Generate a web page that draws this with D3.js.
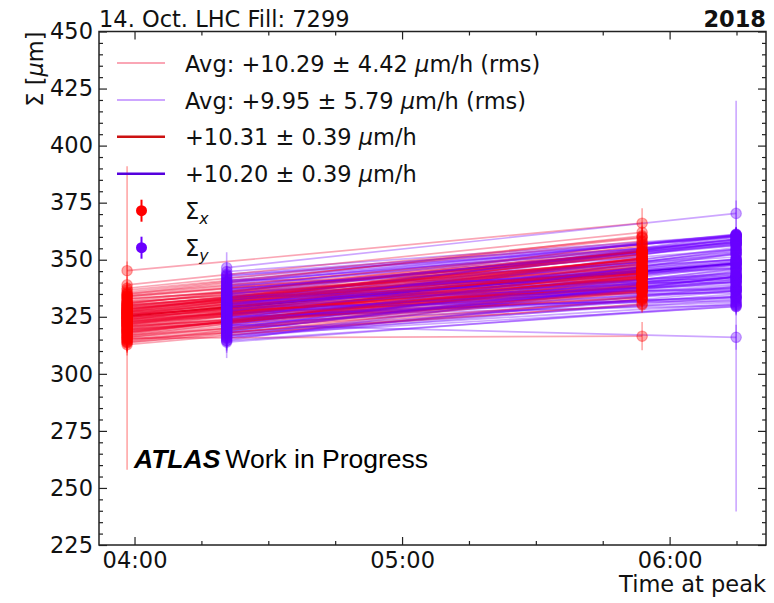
<!DOCTYPE html>
<html><head><meta charset="utf-8">
<script src="https://cdn.jsdelivr.net/npm/d3@7"></script>
<style>
body{margin:0;background:#fff}
svg{display:block}
text{font-family:'DejaVu Sans',sans-serif}
</style>
</head><body>
<svg id="chart" width="774" height="603"></svg>
<script>
// ---------------- data ----------------
const titleLeft = "14. Oct. LHC Fill: 7299";
const titleRight = "2018";
const xTickLabels = ["04:00", "05:00", "06:00"];
const yTicks = [225, 250, 275, 300, 325, 350, 375, 400, 425, 450];
const scanTimesX = ["03:58:20", "05:53:50"];   // Sigma_x scans
const scanTimesY = ["04:20:40", "06:14:55"];   // Sigma_y scans

const sigmaX_start = [325.1,318.4,331.2,322.7,327.9,314.6,329.3,320.8,334.5,323.6,
 316.9,328.4,321.5,326.7,312.8,330.6,324.2,319.3,335.8,327.0,
 322.1,317.5,332.9,325.8,313.9,329.9,321.0,326.3,318.9,336.7,
 324.7,315.8,330.1,323.0,327.4,319.8,333.6,322.4,328.8,316.2,
 325.5,320.3,331.7,326.0,314.1,329.0,323.3,318.1,334.9,327.6,
 321.8,316.6,330.9,324.9,319.0,328.1,322.9,337.5,315.2,326.5,
 320.1,327.2,323.9,331.8,317.7,325.0,329.6,321.3,334.1,326.8,
 319.6,324.0,330.4,316.0,327.9,322.6,333.0,318.5,325.9,329.2,
 321.9,326.1,313.5,331.1,323.5,328.6,317.1,335.2,324.4,320.6,
 327.3,332.4,319.4,325.3,322.0,330.0,315.0,326.9,323.1,328.3,
 321.1,333.9,318.2,324.8,339.0,
 345.2,315.6,324.5];
const sigmaX_end = [346.4,342.4,348.8,336.6,353.5,332.8,352.1,333.3,355.6,351.0,
 332.2,348.1,350.7,342.8,332.7,356.9,335.2,341.7,359.6,345.5,
 342.7,345.5,347.7,350.5,330.7,350.1,344.1,335.7,337.9,358.2,
 350.6,336.8,346.6,341.9,357.6,334.0,353.0,344.4,345.9,340.7,
 346.3,346.9,344.6,349.4,339.2,347.0,338.9,339.9,360.5,347.6,
 339.2,343.7,353.5,338.2,338.6,352.3,344.1,359.9,330.2,345.2,
 339.3,350.7,339.7,353.7,344.1,337.7,350.2,345.4,351.4,349.6,
 348.5,342.4,345.0,337.1,353.6,342.5,346.4,341.5,356.3,345.4,
 342.8,337.9,336.0,349.9,350.6,343.9,341.7,354.6,346.0,338.5,
 352.5,352.5,336.1,353.6,344.2,344.1,336.4,350.6,341.7,354.3,
 333.5,353.6,343.1,341.8,362.0,
 366.0,316.5,343.8];
const errX_start = [3.1,2.8,3.4,2.9,3.6,3.2,2.7,3.0,3.5,2.9,
 3.3,3.1,2.8,3.7,4.8,3.0,2.9,3.4,3.2,3.1,
 2.8,3.5,3.0,3.3,4.1,2.9,3.2,3.0,3.4,3.6,
 2.9,3.8,3.1,3.0,3.3,2.8,3.2,3.5,2.9,3.4,
 3.0,3.1,3.3,2.8,4.2,3.0,3.2,3.4,3.1,2.9,
 3.3,3.6,3.0,3.2,2.8,3.1,3.4,3.0,3.5,3.2,
 3.2,2.9,3.1,3.4,3.0,2.8,3.3,3.1,3.5,2.9,
 3.2,3.0,3.4,3.6,3.1,2.9,3.3,3.0,3.2,3.1,
 2.8,3.4,4.4,3.0,3.2,3.1,3.5,3.3,2.9,3.0,
 3.2,3.4,3.1,2.9,3.3,3.0,4.0,3.1,3.2,3.0,
 3.3,3.5,3.1,2.9,3.6,
 4.0,5.8,66.5];
const errX_end = [3.4,3.0,3.2,3.1,3.5,3.3,2.9,3.2,3.6,3.0,
 3.1,3.3,2.9,3.4,3.2,3.8,3.0,3.1,4.2,3.2,
 3.0,3.4,3.1,3.3,3.5,3.0,3.2,3.1,3.3,3.9,
 3.0,3.4,3.2,3.1,3.6,2.9,3.3,3.2,3.0,3.4,
 3.1,3.2,3.4,3.0,3.3,3.1,3.3,3.2,4.5,3.0,
 3.2,3.5,3.1,3.3,3.0,3.2,3.3,4.1,3.4,3.1,
 3.1,3.3,3.0,3.4,3.2,3.1,3.5,2.9,3.3,3.2,
 3.0,3.4,3.1,3.2,3.5,3.0,3.3,3.1,3.8,3.2,
 3.1,3.0,3.4,3.2,3.3,3.1,3.0,3.6,3.2,3.1,
 3.4,3.3,3.0,3.5,3.1,3.2,3.3,3.1,3.0,3.4,
 3.2,3.5,3.1,3.0,4.6,
 6.5,6.2,3.5];

const sigmaY_start = [329.4,321.7,336.2,326.5,332.8,317.3,340.1,324.0,330.7,315.4,
 334.9,327.8,322.6,338.5,319.9,331.3,325.2,343.6,328.6,316.8,
 335.7,323.4,330.0,320.5,341.9,326.9,333.5,318.6,329.8,337.4,
 324.8,313.9,332.1,327.3,339.3,321.2,335.0,325.9,344.8,330.5,
 319.2,328.2,334.2,323.0,316.1,337.9,326.1,331.9,322.3,342.7,
 329.1,318.0,333.0,324.4,340.8,327.0,320.9,336.6,314.7,331.0,
 327.6,334.4,320.2,338.9,325.6,331.6,317.9,336.0,323.7,329.9,
 341.3,321.9,333.8,326.3,318.8,339.9,328.9,324.2,335.4,330.8,
 316.5,327.1,343.1,322.8,332.6,325.1,337.1,319.6,330.3,334.7,
 323.2,340.3,328.0,315.8,331.4,326.6,338.1,321.0,333.3,329.3,
 324.7,336.9,318.3,332.3,327.9,
 346.5,321.6,314.5];
const sigmaY_end = [348.0,347.9,357.6,336.3,356.9,330.8,360.4,354.5,337.6,338.2,
 350.1,360.8,340.3,349.9,347.5,350.3,330.0,359.8,353.9,329.4,
 357.8,358.5,344.0,341.2,360.2,355.3,342.1,342.5,361.0,351.2,
 343.7,330.3,359.0,338.0,361.0,345.8,352.2,333.6,360.7,353.4,
 349.0,347.8,346.3,348.4,336.3,361.2,340.7,359.2,331.4,360.7,
 350.1,334.9,357.8,336.3,360.3,353.0,336.6,357.1,344.8,348.6,
 338.5,336.8,346.1,356.5,343.0,341.3,332.5,356.2,340.2,354.7,
 339.8,352.5,335.4,337.6,342.5,358.4,341.6,333.1,346.5,346.2,
 342.6,360.1,357.5,342.6,343.2,333.6,354.4,342.5,342.5,358.8,
 337.2,357.2,349.3,333.8,339.1,340.3,358.9,352.9,348.4,331.9,
 334.0,356.4,345.1,349.4,344.2,
 370.3,316.0,329.7];
const errY_start = [3.2,3.5,3.0,3.3,3.1,3.6,3.4,3.2,3.0,5.5,
 3.3,3.1,3.4,3.2,3.5,3.0,3.3,3.6,3.1,4.8,
 3.2,3.4,3.0,3.5,3.3,3.1,3.2,3.6,3.0,3.4,
 3.3,7.0,3.1,3.2,3.5,3.4,3.0,3.3,3.8,3.1,
 3.6,3.2,3.0,3.4,5.0,3.3,3.1,3.2,3.5,3.6,
 3.0,3.7,3.2,3.3,3.4,3.1,3.5,3.2,5.5,3.0,
 3.1,3.3,3.4,3.0,3.2,3.5,3.6,3.1,3.3,3.0,
 3.4,3.2,3.1,3.3,3.5,3.0,3.2,3.4,3.1,3.3,
 4.6,3.2,3.9,3.1,3.0,3.3,3.2,3.5,3.1,3.4,
 3.0,3.3,3.2,4.2,3.1,3.4,3.0,3.2,3.3,3.1,
 3.5,3.2,3.6,3.0,3.3,
 6.8,4.0,4.0];
const errY_end = [3.3,3.1,3.5,3.2,3.4,3.6,3.3,3.0,3.2,3.4,
 3.1,3.5,3.2,3.0,3.3,3.4,4.0,3.6,3.1,3.8,
 3.2,3.4,3.0,3.3,3.5,3.1,3.2,3.4,3.6,3.0,
 3.3,3.9,3.2,3.1,3.5,3.4,3.0,3.2,3.3,3.1,
 3.4,3.2,3.0,3.3,3.5,3.2,3.1,3.4,3.6,3.3,
 3.0,3.5,3.2,3.4,3.1,3.3,3.5,3.0,3.2,3.4,
 3.2,3.0,3.3,3.1,3.4,3.2,3.5,3.1,3.3,3.0,
 3.2,3.4,3.1,3.3,3.0,3.5,3.2,3.6,3.1,3.3,
 3.4,3.2,3.0,3.3,3.1,3.4,3.2,3.0,3.3,3.5,
 3.1,3.2,3.4,3.6,3.0,3.3,3.1,3.2,3.4,3.0,
 3.7,3.2,3.1,3.3,3.2,
 5.6,5.5,90.0];

const fitX = [325.3, 345.2];
const fitY = [329.0, 348.4];

const legendLabels = [
  ["Avg: +10.29 ± 4.42 ", "μ", "m/h (rms)"],
  ["Avg: +9.95 ± 5.79 ", "μ", "m/h (rms)"],
  ["+10.31 ± 0.39 ", "μ", "m/h"],
  ["+10.20 ± 0.39 ", "μ", "m/h"]
];

// ---------------- styles ----------------
const C = {
  lineX: "#f0002c", lineY: "#7000ff",
  markX: "#ff0000", markY: "#6a00ff",
  fitX: "#cc1111", fitY: "#5500dd"
};
const FS = 22.5;

// ---------------- scales ----------------
const day = (s) => { const p = s.split(":").map(Number); return new Date(2018, 9, 14, p[0], p[1], p[2] || 0); };
const L = 99, R = 766, T = 31.5, B = 545;
const x = d3.scaleTime().domain([day("03:52:02"), day("06:21:37")]).range([L, R]);
const y = d3.scaleLinear().domain([225, 450]).range([B, T]);

const svg = d3.select("#chart");
const plot = svg.append("g");
plot.append("defs").append("clipPath").attr("id", "clip")
  .append("rect").attr("x", L).attr("y", T).attr("width", R - L).attr("height", B - T);
const data = plot.append("g").attr("clip-path", "url(#clip)");

const tx = scanTimesX.map(day), ty = scanTimesY.map(day);

// fit lines (underneath)
data.append("line").attr("x1", x(tx[0])).attr("x2", x(tx[1]))
  .attr("y1", y(fitX[0])).attr("y2", y(fitX[1]))
  .attr("stroke", C.fitX).attr("stroke-width", 2);
data.append("line").attr("x1", x(ty[0])).attr("x2", x(ty[1]))
  .attr("y1", y(fitY[0])).attr("y2", y(fitY[1]))
  .attr("stroke", C.fitY).attr("stroke-width", 2);

// per-bunch lines, interleaved
const LA = 0.35;
sigmaX_start.forEach((v, i) => {
  data.append("line").attr("x1", x(tx[0])).attr("x2", x(tx[1]))
    .attr("y1", y(v)).attr("y2", y(sigmaX_end[i]))
    .attr("stroke", C.lineX).attr("stroke-opacity", LA).attr("stroke-width", 1.7);
  data.append("line").attr("x1", x(ty[0])).attr("x2", x(ty[1]))
    .attr("y1", y(sigmaY_start[i])).attr("y2", y(sigmaY_end[i]))
    .attr("stroke", C.lineY).attr("stroke-opacity", LA).attr("stroke-width", 1.7);
});

// markers with error bars
function points(t, vals, errs, col) {
  vals.forEach((v, i) => {
    data.append("line").attr("x1", x(t)).attr("x2", x(t))
      .attr("y1", y(v - errs[i])).attr("y2", y(v + errs[i]))
      .attr("stroke", col).attr("stroke-opacity", LA).attr("stroke-width", 1.6);
    data.append("circle").attr("cx", x(t)).attr("cy", y(v)).attr("r", 5.2)
      .attr("fill", col).attr("fill-opacity", LA)
      .attr("stroke", col).attr("stroke-opacity", LA).attr("stroke-width", 1.2);
  });
}
points(tx[0], sigmaX_start, errX_start, C.markX);
points(tx[1], sigmaX_end, errX_end, C.markX);
points(ty[0], sigmaY_start, errY_start, C.markY);
points(ty[1], sigmaY_end, errY_end, C.markY);

// ---------------- axes ----------------
const xMajor = xTickLabels.map(s => day(s + ":00"));
const xMinor = d3.timeMinute.every(15).range(x.domain()[0], x.domain()[1]).filter(d => d.getMinutes() !== 0);
const yMinor = d3.range(230, 450, 5).filter(v => v % 25 !== 0);
const MAJ = 8, MIN = 4;

function styleAxis(g) {
  g.select(".domain").remove();
  g.selectAll("line").attr("stroke", "#222").attr("stroke-width", 1.2);
  g.selectAll("text").attr("font-family", "'DejaVu Sans',sans-serif").attr("font-size", FS).attr("fill", "#111");
  g.attr("font-size", null).attr("font-family", null);
}
const fmt = d3.timeFormat("%H:%M");
plot.append("g").attr("transform", `translate(0,${B})`)
  .call(d3.axisBottom(x).tickValues(xMajor).tickFormat(fmt).tickSizeInner(-MAJ).tickSizeOuter(0).tickPadding(7)).call(styleAxis);
plot.append("g").attr("transform", `translate(0,${B})`)
  .call(d3.axisBottom(x).tickValues(xMinor).tickFormat("").tickSizeInner(-MIN).tickSizeOuter(0)).call(styleAxis);
plot.append("g").attr("transform", `translate(0,${T})`)
  .call(d3.axisTop(x).tickValues(xMajor).tickFormat("").tickSizeInner(-MAJ).tickSizeOuter(0)).call(styleAxis);
plot.append("g").attr("transform", `translate(0,${T})`)
  .call(d3.axisTop(x).tickValues(xMinor).tickFormat("").tickSizeInner(-MIN).tickSizeOuter(0)).call(styleAxis);
plot.append("g").attr("transform", `translate(${L},0)`)
  .call(d3.axisLeft(y).tickValues(yTicks).tickFormat(d3.format("d")).tickSizeInner(-MAJ).tickSizeOuter(0).tickPadding(6)).call(styleAxis);
plot.append("g").attr("transform", `translate(${L},0)`)
  .call(d3.axisLeft(y).tickValues(yMinor).tickFormat("").tickSizeInner(-MIN).tickSizeOuter(0)).call(styleAxis);
plot.append("g").attr("transform", `translate(${R},0)`)
  .call(d3.axisRight(y).tickValues(yTicks).tickFormat("").tickSizeInner(-MAJ).tickSizeOuter(0)).call(styleAxis);
plot.append("g").attr("transform", `translate(${R},0)`)
  .call(d3.axisRight(y).tickValues(yMinor).tickFormat("").tickSizeInner(-MIN).tickSizeOuter(0)).call(styleAxis);

plot.append("rect").attr("x", L).attr("y", T).attr("width", R - L).attr("height", B - T)
  .attr("fill", "none").attr("stroke", "#222").attr("stroke-width", 1.5);

// ---------------- texts ----------------
svg.append("text").attr("x", L).attr("y", 26.5).attr("font-size", FS).attr("fill", "#111").text(titleLeft);
svg.append("text").attr("x", R).attr("y", 26.5).attr("font-size", FS).attr("font-weight", "bold")
  .attr("text-anchor", "end").attr("fill", "#111").text(titleRight);
svg.append("text").attr("x", R).attr("y", 592).attr("font-size", FS).attr("text-anchor", "end")
  .attr("fill", "#111").text("Time at peak");
const yl = svg.append("text").attr("transform", `translate(43,${T}) rotate(-90)`)
  .attr("text-anchor", "end").attr("font-size", FS).attr("fill", "#111");
yl.append("tspan").text("Σ [");
yl.append("tspan").attr("font-style", "italic").text("μ");
yl.append("tspan").text("m]");

// ATLAS label
const atl = svg.append("text").attr("x", 134).attr("y", 468)
  .attr("font-family", "'Liberation Sans',Arial,sans-serif").attr("font-size", 26.5).attr("fill", "#000");
atl.append("tspan").attr("font-weight", "bold").attr("font-style", "italic")
  .attr("font-family", "'Liberation Sans',Arial,sans-serif").text("ATLAS");
atl.append("tspan").attr("font-family", "'Liberation Sans',Arial,sans-serif").attr("dx", 5).text("Work in Progress");

// ---------------- legend ----------------
const leg = svg.append("g");
const rowY = [63, 100, 136.8, 173.8, 210.7, 247.7];
const legLine = [
  {c: C.lineX, o: LA, w: 2}, {c: C.lineY, o: LA, w: 2},
  {c: C.fitX, o: 1, w: 2.5}, {c: C.fitY, o: 1, w: 2.5}
];
legLine.forEach((d, i) => {
  leg.append("line").attr("x1", 117).attr("x2", 165).attr("y1", rowY[i]).attr("y2", rowY[i])
    .attr("stroke", d.c).attr("stroke-opacity", d.o).attr("stroke-width", d.w);
  const t = leg.append("text").attr("x", 185).attr("y", rowY[i] + 8.5).attr("font-size", FS).attr("fill", "#111");
  t.append("tspan").text(legendLabels[i][0]);
  t.append("tspan").attr("font-style", "italic").text(legendLabels[i][1]);
  t.append("tspan").text(legendLabels[i][2]);
});
[[C.markX, "x"], [C.markY, "y"]].forEach((d, j) => {
  const yy = rowY[4 + j];
  leg.append("line").attr("x1", 141.5).attr("x2", 141.5).attr("y1", yy - 11).attr("y2", yy + 11)
    .attr("stroke", d[0]).attr("stroke-width", 2);
  leg.append("circle").attr("cx", 141.5).attr("cy", yy).attr("r", 5.5).attr("fill", d[0]);
  const t = leg.append("text").attr("x", 185).attr("y", yy + 8).attr("font-size", FS).attr("fill", "#111");
  t.append("tspan").text("Σ");
  t.append("tspan").attr("font-style", "italic").attr("font-size", FS * 0.7).attr("dy", 5).text(d[1]);
});
</script>
</body></html>
